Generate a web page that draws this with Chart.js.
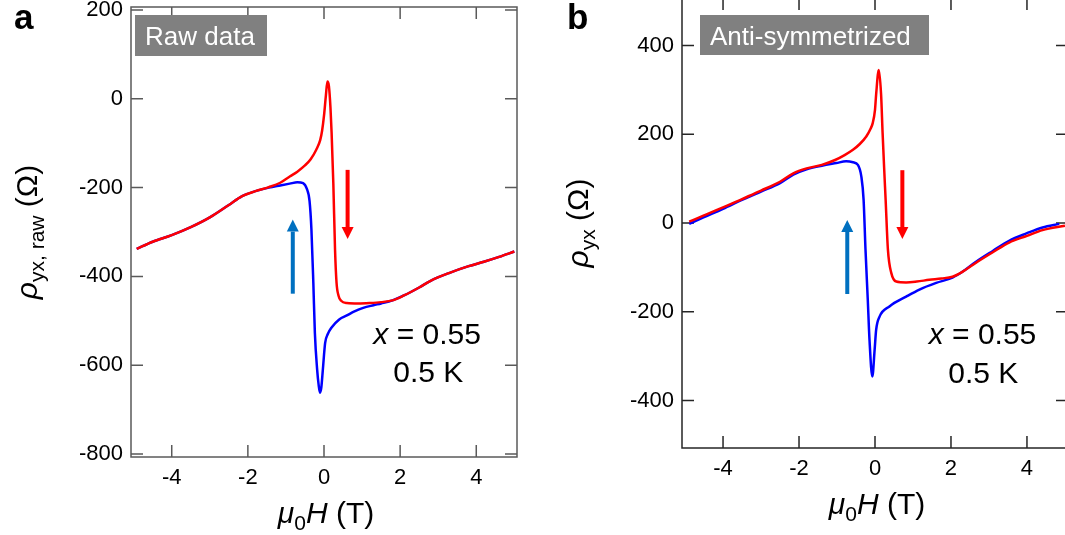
<!DOCTYPE html>
<html>
<head>
<meta charset="utf-8">
<script src="https://cdn.jsdelivr.net/npm/chart.js@4.4.1/dist/chart.umd.min.js"></script>
<style>
  html, body { margin: 0; padding: 0; background: #fff; overflow: hidden; }
  #wrap { position: relative; width: 1065px; height: 535px; overflow: hidden; }
  canvas { position: absolute; }
</style>
</head>
<body>
<div id="wrap">
  <canvas id="rawChart" width="540" height="565" style="left:0px; top:-30px;"></canvas>
  <canvas id="antiChart" width="540" height="565" style="left:551px; top:-30px;"></canvas>
</div>
<script>
// tick values
const fieldTicks = [-4, -2, 0, 2, 4];
const rawTicks = [-800, -600, -400, -200, 0, 200];
const antiTicks = [-400, -200, 0, 200, 400];

// panel a: raw data, red = field sweep down, blue = sweep up
const rawRedH = [-4.92, -4.5, -4.0, -3.5, -3.0, -2.5, -2.15, -1.8, -1.45, -1.15, -0.9, -0.7, -0.5, -0.35, -0.2, -0.1, -0.05, 0.0, 0.05, 0.09, 0.13, 0.17, 0.2, 0.245, 0.29, 0.33, 0.38, 0.45, 0.6, 0.9, 1.2, 1.5, 1.8, 2.1, 2.5, 2.8, 3.3, 3.8, 4.2, 4.6, 5.0];
const rawRedRho = [-338, -322, -307, -289, -267, -239, -219, -208, -199, -189, -175, -164, -150, -136, -114, -93, -72, -38, 8, 39, 28, -20, -77, -190, -340, -415, -443, -455, -460, -461, -460, -458, -454, -443, -425, -410, -392, -377, -367, -356, -344];
const rawBlueH = [-4.92, -4.5, -4.0, -3.5, -3.0, -2.5, -2.15, -1.8, -1.45, -1.15, -0.9, -0.7, -0.55, -0.45, -0.38, -0.33, -0.28, -0.24, -0.18, -0.14, -0.105, -0.07, -0.03, 0.03, 0.1, 0.2, 0.4, 0.6, 0.8, 1.03, 1.3, 1.5, 1.8, 2.1, 2.5, 2.8, 3.3, 3.8, 4.2, 4.6, 5.0];
const rawBlueRho = [-338, -322, -307, -289, -267, -239, -219, -208, -200, -195, -191, -188, -190, -203, -230, -295, -415, -527, -610, -645, -662, -650, -610, -550, -530, -515, -497, -488, -479, -471, -465, -461, -454, -443, -425, -410, -392, -377, -367, -356, -344];

// panel b: anti-symmetrized
const antiRedH = [-4.89, -4.5, -4.0, -3.5, -3.0, -2.5, -2.15, -1.8, -1.4, -1.05, -0.8, -0.58, -0.4, -0.23, -0.12, -0.06, 0.0, 0.03, 0.1, 0.16, 0.2, 0.24, 0.28, 0.34, 0.43, 0.56, 0.82, 1.1, 1.43, 1.75, 2.04, 2.3, 2.65, 3.1, 3.53, 4.0, 4.41, 5.0];
const antiRedRho = [3, 17, 35, 54, 73, 93, 112, 123, 131, 142, 153, 165, 178, 195, 212, 225, 255, 290, 345, 290, 203, 125, 52, -60, -113, -132, -134, -132, -128, -125, -121, -110, -90, -66, -44, -29, -16, -6];
const antiBlueH = [-4.89, -4.5, -4.0, -3.5, -3.0, -2.5, -2.15, -1.8, -1.4, -1.02, -0.76, -0.58, -0.45, -0.36, -0.3, -0.25, -0.19, -0.145, -0.07, -0.01, 0.03, 0.12, 0.38, 0.82, 1.17, 1.61, 2.04, 2.3, 2.65, 3.1, 3.53, 4.0, 4.41, 4.85];
const antiBlueRho = [-2, 13, 32, 52, 71, 90, 109, 121, 129, 135, 139, 137, 131, 105, 52, -60, -173, -263, -346, -286, -241, -211, -188, -166, -150, -135, -123, -110, -88, -63, -40, -23, -10, -2];

const FONT = '"Liberation Sans", Arial, sans-serif';

function zip(xs, ys) {
    return xs.map((x, i) => ({ x: x, y: ys[i] }));
}

// draws a list of text runs (italic / subscript) on one line
function drawRuns(ctx, runs, size, x, y) {
    const fontFor = r => (r.italic ? 'italic ' : '') + (r.sub ? Math.round(size * 0.7) : size) + 'px ' + FONT;
    let total = 0;
    const widths = runs.map(r => {
        ctx.font = fontFor(r);
        const w = ctx.measureText(r.t).width;
        total += w;
        return w;
    });
    let cx = x - total / 2;
    runs.forEach((r, i) => {
        ctx.font = fontFor(r);
        ctx.fillText(r.t, cx, r.sub ? y + size * 0.22 : y);
        cx += widths[i];
    });
}

function drawArrow(ctx, px, yTail, yTip, color) {
    const dir = yTip < yTail ? -1 : 1;
    const head = 12;
    ctx.strokeStyle = color;
    ctx.fillStyle = color;
    ctx.lineWidth = 4;
    ctx.beginPath();
    ctx.moveTo(px, yTail);
    ctx.lineTo(px, yTip - dir * head);
    ctx.stroke();
    ctx.beginPath();
    ctx.moveTo(px, yTip);
    ctx.lineTo(px - 6, yTip - dir * head);
    ctx.lineTo(px + 6, yTip - dir * head);
    ctx.closePath();
    ctx.fill();
}

const framePlugin = {
    id: 'frame',
    beforeDatasetsDraw(chart, args, opts) {
        const { ctx, chartArea: a, scales: { x, y } } = chart;
        ctx.save();
        ctx.strokeStyle = opts.color;
        ctx.lineWidth = 1.5;
        ctx.strokeRect(a.left, a.top, a.right - a.left, a.bottom - a.top);
        ctx.beginPath();
        x.ticks.forEach(t => {
            const px = x.getPixelForValue(t.value);
            ctx.moveTo(px, a.bottom); ctx.lineTo(px, a.bottom - 12);
            ctx.moveTo(px, a.top); ctx.lineTo(px, a.top + 12);
        });
        y.ticks.forEach(t => {
            const py = y.getPixelForValue(t.value);
            ctx.moveTo(a.left, py); ctx.lineTo(a.left + 12, py);
            ctx.moveTo(a.right, py); ctx.lineTo(a.right - 12, py);
        });
        ctx.stroke();
        ctx.restore();
    },
    afterDatasetsDraw(chart, args, opts) {
        const { ctx, chartArea: a, scales: { x, y } } = chart;
        ctx.save();
        // arrows
        opts.arrows.forEach(ar => {
            drawArrow(ctx, x.getPixelForValue(ar.h), y.getPixelForValue(ar.from), y.getPixelForValue(ar.to), ar.color);
        });
        // grey label box
        const b = opts.box;
        ctx.fillStyle = '#808080';
        ctx.fillRect(a.left + b.dx, a.top + b.dy, b.w, b.h);
        ctx.fillStyle = '#ffffff';
        ctx.font = '26px ' + FONT;
        ctx.textBaseline = 'alphabetic';
        ctx.textAlign = 'left';
        ctx.fillText(b.text, a.left + b.tx, a.top + b.ty);
        // sample notes
        ctx.fillStyle = '#000';
        ctx.textBaseline = 'middle';
        opts.notes.forEach(n => {
            drawRuns(ctx, n.runs, 30, x.getPixelForValue(n.h), y.getPixelForValue(n.rho));
        });
        // axis titles
        ctx.textBaseline = 'alphabetic';
        drawRuns(ctx, [{ t: '\u03bc', italic: true }, { t: '0', sub: true }, { t: 'H', italic: true }, { t: ' (T)' }],
            30, (a.left + a.right) / 2 + 2, a.bottom + 66);
        ctx.save();
        ctx.translate(a.left - 94, (a.top + a.bottom) / 2);
        ctx.rotate(-Math.PI / 2);
        drawRuns(ctx, opts.yTitle, 30, 0, 0);
        ctx.restore();
        // panel letter
        ctx.font = 'bold 35px ' + FONT;
        ctx.textAlign = 'left';
        ctx.fillText(opts.letter, a.left + opts.letterDx, a.top + opts.letterDy);
        ctx.restore();
    }
};

function makePanel(id, p) {
    return new Chart(document.getElementById(id), {
        type: 'line',
        data: {
            datasets: [
                { data: zip(p.redH, p.redRho), borderColor: '#ff0000', borderWidth: 2.5, pointRadius: 0, cubicInterpolationMode: 'monotone', fill: false },
                { data: zip(p.blueH, p.blueRho), borderColor: '#0000ff', borderWidth: 2.5, pointRadius: 0, cubicInterpolationMode: 'monotone', fill: false }
            ]
        },
        options: {
            responsive: false,
            animation: false,
            devicePixelRatio: 1,
            layout: { padding: { top: p.padTop, right: 23, left: 0, bottom: 0 } },
            plugins: {
                legend: { display: false },
                tooltip: { enabled: false },
                frame: p.frame
            },
            scales: {
                x: {
                    type: 'linear',
                    min: -p.xLim,
                    max: p.xLim,
                    afterBuildTicks: s => { s.ticks = fieldTicks.map(v => ({ value: v })); },
                    afterFit: s => { s.height = p.xHeight; },
                    grid: { display: false, drawTicks: false },
                    border: { display: false },
                    ticks: { padding: 8, color: '#000', font: { family: FONT, size: 22 }, maxRotation: 0 }
                },
                y: {
                    type: 'linear',
                    min: p.yMin,
                    max: p.yMax,
                    afterBuildTicks: s => { s.ticks = p.yTicks.map(v => ({ value: v })); },
                    afterFit: s => { s.width = 131; },
                    grid: { display: false, drawTicks: false },
                    border: { display: false },
                    ticks: { padding: 8, color: '#000', font: { family: FONT, size: 22 } }
                }
            }
        },
        plugins: [framePlugin]
    });
}

makePanel('rawChart', {
    redH: rawRedH, redRho: rawRedRho, blueH: rawBlueH, blueRho: rawBlueRho,
    xLim: 5.07, yMin: -807, yMax: 207, yTicks: rawTicks,
    padTop: 37, xHeight: 78,
    frame: {
        color: '#5a5a5a',
        arrows: [
            { h: -0.82, from: -439, to: -272, color: '#0070c0' },
            { h: 0.62, from: -160, to: -316, color: '#ff0000' }
        ],
        box: { text: 'Raw data', dx: 4, dy: 8, w: 132, h: 41, tx: 14, ty: 38 },
        notes: [
            { h: 2.71, rho: -533, runs: [{ t: 'x', italic: true }, { t: ' = 0.55' }] },
            { h: 2.74, rho: -619, runs: [{ t: '0.5 K' }] }
        ],
        yTitle: [{ t: '\u03c1', italic: true }, { t: 'yx, raw', sub: true }, { t: ' (\u03a9)' }],
        letter: 'a', letterDx: -117, letterDy: 22
    }
});

makePanel('antiChart', {
    redH: antiRedH, redRho: antiRedRho, blueH: antiBlueH, blueRho: antiBlueRho,
    xLim: 5.08, yMin: -507, yMax: 507, yTicks: antiTicks,
    padTop: 28, xHeight: 87,
    frame: {
        color: '#262626',
        arrows: [
            { h: -0.73, from: -160, to: 7, color: '#0070c0' },
            { h: 0.72, from: 119, to: -36, color: '#ff0000' }
        ],
        box: { text: 'Anti-symmetrized', dx: 18, dy: 17, w: 229, h: 40, tx: 28, ty: 47 },
        notes: [
            { h: 2.83, rho: -254, runs: [{ t: 'x', italic: true }, { t: ' = 0.55' }] },
            { h: 2.85, rho: -342, runs: [{ t: '0.5 K' }] }
        ],
        yTitle: [{ t: '\u03c1', italic: true }, { t: 'yx', sub: true }, { t: ' (\u03a9)' }],
        letter: 'b', letterDx: -115, letterDy: 31
    }
});
</script>
</body>
</html>
